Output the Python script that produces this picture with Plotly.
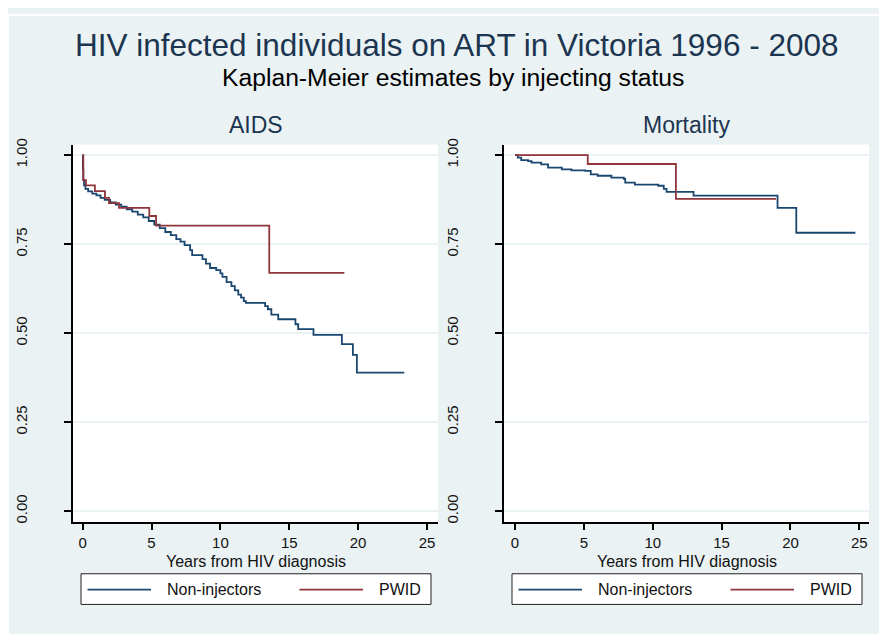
import plotly.graph_objects as go

# ---------------- data ----------------
x_ticks = [0, 5, 10, 15, 20, 25]
y_ticks = [0.0, 0.25, 0.5, 0.75, 1.0]
y_tick_labels = ["0.00", "0.25", "0.50", "0.75", "1.00"]
series_names = ["Non-injectors", "PWID"]
panel_titles = ["AIDS", "Mortality"]

aids_non_t = [0, 0.02, 0.05, 0.1, 0.2, 0.4, 0.7, 1.0, 1.3, 1.6, 2.0, 2.4, 2.8, 3.2, 3.6,
              4.0, 4.4, 4.8, 5.2, 5.6, 6.0, 6.4, 6.8, 7.1, 7.4, 7.8, 7.95, 8.7, 8.95, 9.25,
              9.7, 10.0, 10.15, 10.45, 10.8, 11.05, 11.3, 11.5, 11.7, 11.85, 13.25, 13.45,
              13.7, 14.2, 15.45, 15.65, 16.76, 18.82, 19.62, 19.91, 23.35]
aids_non_s = [1.0, 0.96, 0.93, 0.915, 0.905, 0.898, 0.892, 0.887, 0.880, 0.874, 0.867, 0.861,
              0.855, 0.848, 0.841, 0.833, 0.825, 0.815, 0.805, 0.795, 0.784, 0.775, 0.764,
              0.757, 0.747, 0.733, 0.719, 0.708, 0.695, 0.683, 0.677, 0.668, 0.658, 0.643,
              0.632, 0.620, 0.608, 0.600, 0.590, 0.585, 0.576, 0.567, 0.552, 0.539, 0.525,
              0.511, 0.495, 0.469, 0.439, 0.389, 0.389]

aids_pwid_t = [0, 0.05, 0.24, 0.89, 1.62, 1.91, 2.64, 4.84, 5.33, 13.55, 19.0]
aids_pwid_s = [1.0, 0.93, 0.915, 0.899, 0.880, 0.865, 0.852, 0.829, 0.802, 0.669, 0.669]

mort_non_t = [0, 0.2, 0.45, 0.95, 1.2, 1.9, 2.4, 3.4, 4.1, 5.1, 5.5, 6.0, 7.0, 7.9, 8.0,
              8.7, 10.4, 10.8, 11.0, 12.96, 19.06, 20.42, 24.71]
mort_non_s = [1.0, 0.993, 0.986, 0.983, 0.979, 0.974, 0.965, 0.960, 0.957, 0.956, 0.946,
              0.942, 0.937, 0.933, 0.923, 0.917, 0.914, 0.905, 0.897, 0.886, 0.852, 0.782,
              0.782]

mort_pwid_t = [0, 5.28, 11.68, 18.95]
mort_pwid_s = [1.0, 0.975, 0.877, 0.877]

# ---------------- style ----------------
W, H = 887, 634
BG = "#EAF2F3"
NAVY = "#1A476F"
MAROON = "#90353B"
TITLE_COL = "#1C3550"
FONT = "Liberation Sans, Arial, sans-serif"


def px(x):
    return x / W


def py(y):
    return 1 - y / H


fig = go.Figure()

colors = [NAVY, MAROON]
panels = [
    ("x", "y", [(aids_non_t, aids_non_s), (aids_pwid_t, aids_pwid_s)]),
    ("x2", "y2", [(mort_non_t, mort_non_s), (mort_pwid_t, mort_pwid_s)]),
]
for xa, ya, data in panels:
    for (t, s), name, c in zip(data, series_names, colors):
        fig.add_trace(go.Scatter(x=t, y=s, mode="lines", name=name,
                                 line=dict(color=c, width=1.8, shape="hv"),
                                 xaxis=xa, yaxis=ya, showlegend=False))

ydom = [py(514), py(132)]
left_dom = [px(65), px(430)]
right_dom = [px(496), px(861)]

xcommon = dict(tickvals=x_ticks, ticks="outside", ticklen=6, tickwidth=1.5,
               tickcolor="black", showline=True, linecolor="black", linewidth=2,
               showgrid=False, zeroline=False,
               tickfont=dict(family=FONT, size=15, color="#111111"))
ycommon = dict(tickvals=y_ticks, ticktext=y_tick_labels, tickangle=-90,
               range=[-0.0314, 1.0297], ticks="outside", ticklen=7, tickwidth=1.5,
               tickcolor="black", showline=True, linecolor="black", linewidth=2,
               showgrid=True, gridcolor=BG, gridwidth=1.5, zeroline=False,
               ticklabelstandoff=31,
               tickfont=dict(family=FONT, size=15, color="#111111"))

fig.update_layout(
    width=W, height=H,
    margin=dict(l=0, r=0, t=0, b=0),
    paper_bgcolor=BG, plot_bgcolor="white",
    showlegend=False,
    font=dict(family=FONT),
    xaxis=dict(domain=left_dom, range=[-0.7, 25.8], anchor="y", **xcommon),
    yaxis=dict(domain=ydom, anchor="x", **ycommon),
    xaxis2=dict(domain=right_dom, range=[-0.8, 25.7], anchor="y2", **xcommon),
    yaxis2=dict(domain=ydom, anchor="x2", **ycommon),
)

shapes = [
    dict(type="rect", xref="paper", yref="paper", x0=0, x1=1, y0=py(2), y1=1,
         fillcolor="white", line=dict(width=0)),
    dict(type="rect", xref="paper", yref="paper", x0=0, x1=px(1), y0=0, y1=1,
         fillcolor="white", line=dict(width=0)),
]
annotations = [
    dict(text="HIV infected individuals on ART in Victoria 1996 - 2008",
         x=px(448.5), y=py(31), xref="paper", yref="paper", showarrow=False,
         xanchor="center", yanchor="middle",
         font=dict(family=FONT, size=31.5, color=TITLE_COL)),
    dict(text="Kaplan-Meier estimates by injecting status",
         x=px(445.5), y=py(64), xref="paper", yref="paper", showarrow=False,
         xanchor="center", yanchor="middle",
         font=dict(family=FONT, size=24.7, color="black")),
]

panel_geo = [(65, 430, 73, 423), (496, 861, 504, 854)]
for (pl, pr, ll, lr), ttl in zip(panel_geo, panel_titles):
    cx = (pl + pr) / 2
    annotations.append(dict(text=ttl, x=px(cx), y=py(112), xref="paper", yref="paper",
                            showarrow=False, xanchor="center", yanchor="middle",
                            font=dict(family=FONT, size=23, color=TITLE_COL)))
    annotations.append(dict(text="Years from HIV diagnosis", x=px(cx), y=py(554),
                            xref="paper", yref="paper", showarrow=False,
                            xanchor="center", yanchor="middle",
                            font=dict(family=FONT, size=16, color="#111111")))
    # legend box
    shapes.append(dict(type="rect", xref="paper", yref="paper", x0=px(ll), x1=px(lr),
                       y0=py(597), y1=py(566), fillcolor="white",
                       line=dict(color="#222222", width=1)))
    # entries
    off = [(6.5, 70, 84, series_names[0]), (218.5, 282, 296, series_names[1])]
    for (a, b, tx, nm), c in zip(off, colors):
        shapes.append(dict(type="line", xref="paper", yref="paper",
                           x0=px(ll + a), x1=px(ll + b), y0=py(582), y1=py(582),
                           line=dict(color=c, width=1.8)))
        annotations.append(dict(text=nm, x=px(ll + tx), y=py(582), xref="paper",
                                yref="paper", showarrow=False, xanchor="left",
                                yanchor="middle",
                                font=dict(family=FONT, size=16, color="#111111")))

fig.update_layout(shapes=shapes, annotations=annotations)
fig.write_html("out.html")
